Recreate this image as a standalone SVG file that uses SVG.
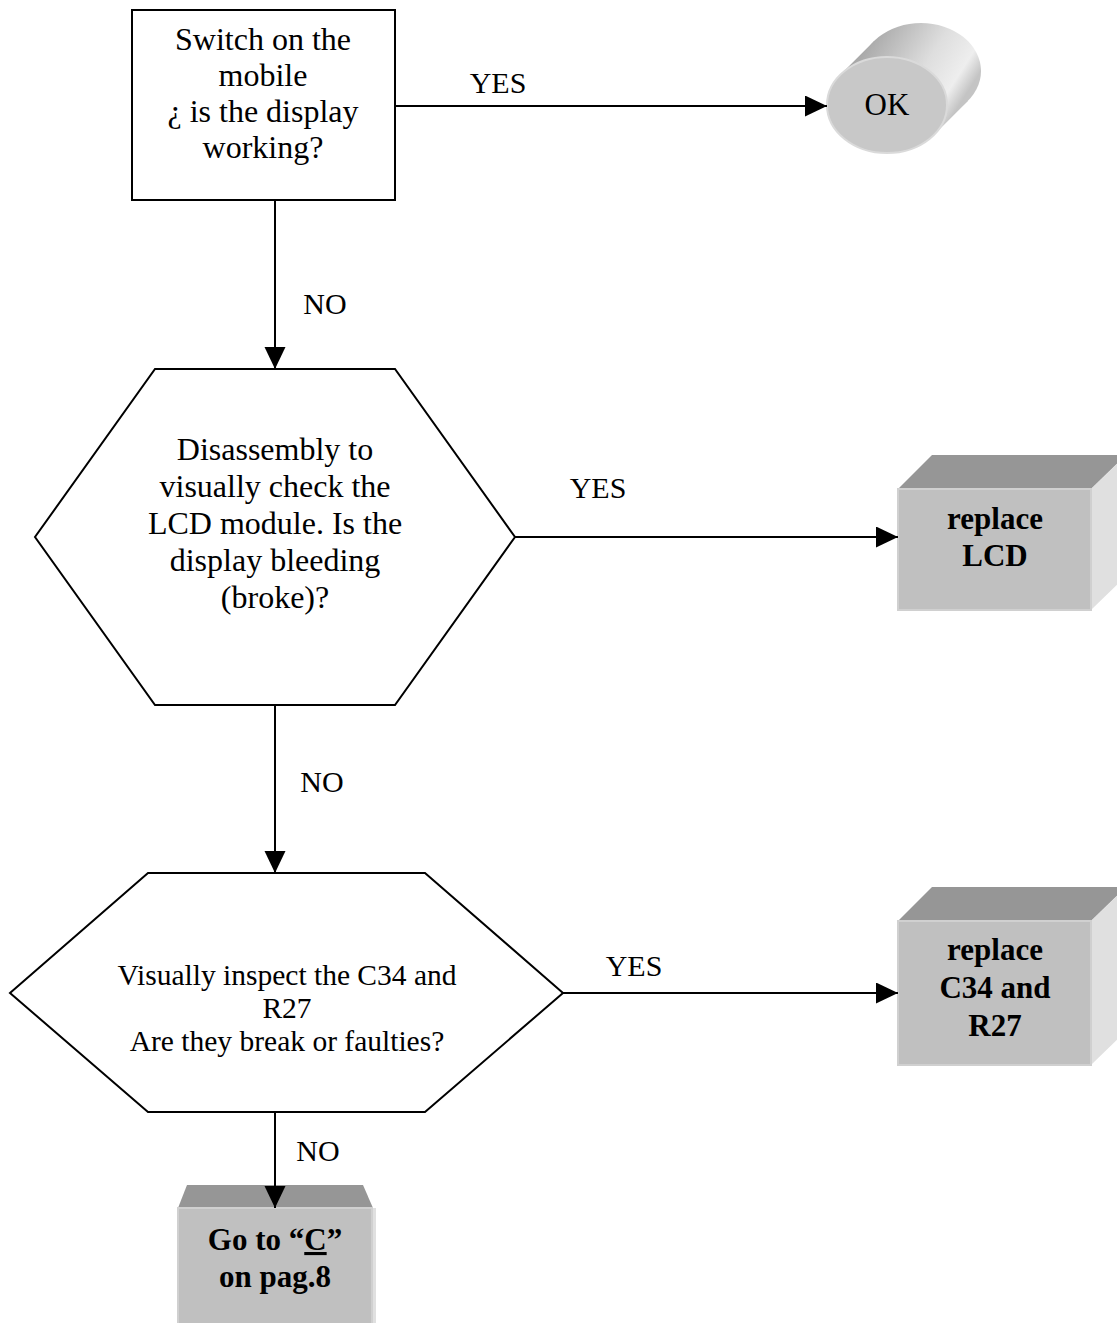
<svg xmlns="http://www.w3.org/2000/svg" width="1117" height="1323" viewBox="0 0 1117 1323">
<style>
  .t { font-family: "Liberation Serif", "Times New Roman", serif; fill: #000; text-anchor: middle; }
  .n32 { font-size: 32px; }
  .n29 { font-size: 29.5px; }
  .lbl { font-size: 30px; }
  .b { font-size: 31px; font-weight: bold; }
  .shape { fill: #fff; stroke: #000; stroke-width: 2; }
  .conn { fill: none; stroke: #000; stroke-width: 2; }
  .front { fill: #c0c0c0; stroke: #d0d0d0; stroke-width: 2; }
  .top { fill: #969696; }
  .side { fill: #e0e0e0; }
</style>
<defs>
  <marker id="arr" markerUnits="userSpaceOnUse" markerWidth="22" markerHeight="22" refX="22" refY="10.5" orient="auto">
    <path d="M0,0 L22,10.5 L0,21 Z" fill="#000"/>
  </marker>
  <linearGradient id="cyl" gradientUnits="userSpaceOnUse" x1="857" y1="58" x2="951" y2="118">
    <stop offset="0" stop-color="#a8a8a8"/>
    <stop offset="0.55" stop-color="#dedede"/>
    <stop offset="0.85" stop-color="#eeeeee"/>
    <stop offset="1" stop-color="#c4c4c4"/>
  </linearGradient>
</defs>
<rect width="1117" height="1323" fill="#fff"/>

<g id="start">
  <rect class="shape" x="132" y="10" width="263" height="190"/>
  <text class="t n32" x="263" y="50">Switch on the</text>
  <text class="t n32" x="263" y="86">mobile</text>
  <text class="t n32" x="263" y="122">¿ is the display</text>
  <text class="t n32" x="263" y="158">working?</text>
</g>

<g id="ok">
  <ellipse cx="921" cy="71" rx="60" ry="48" fill="url(#cyl)"/>
  <polygon points="840.15,75 874.15,41 967.85,101 933.85,135" fill="url(#cyl)"/>
  <ellipse cx="887" cy="105" rx="60" ry="48" fill="#c8c8c8" stroke="#dadada" stroke-width="2"/>
  <text class="t" style="font-size:31px" x="887" y="115">OK</text>
</g>

<g id="check-lcd">
  <polygon class="shape" points="155,369 395,369 515,537 395,705 155,705 35,537"/>
  <text class="t n32" x="275" y="460">Disassembly to</text>
  <text class="t n32" x="275" y="497">visually check the</text>
  <text class="t n32" x="275" y="534">LCD module. Is the</text>
  <text class="t n32" x="275" y="571">display bleeding</text>
  <text class="t n32" x="275" y="608">(broke)?</text>
</g>

<g id="replace-lcd">
  <polygon class="top" points="898,489 932,455 1126,455 1091,489"/>
  <polygon class="side" points="1091,489 1126,455 1126,576 1091,610"/>
  <rect class="front" x="898" y="489" width="193" height="121"/>
  <text class="t b" x="995" y="529">replace</text>
  <text class="t b" x="995" y="566">LCD</text>
</g>

<g id="inspect">
  <polygon class="shape" points="148,873 425,873 563,993 425,1112 148,1112 10,993"/>
  <text class="t n29" x="287" y="985">Visually inspect the C34 and</text>
  <text class="t n29" x="287" y="1018">R27</text>
  <text class="t n29" x="287" y="1051">Are they break or faulties?</text>
</g>

<g id="replace-c34">
  <polygon class="top" points="898,921 932,887 1126,887 1091,921"/>
  <polygon class="side" points="1091,921 1126,887 1126,1031 1091,1065"/>
  <rect class="front" x="898" y="921" width="193" height="144"/>
  <text class="t b" x="995" y="960">replace</text>
  <text class="t b" x="995" y="998">C34 and</text>
  <text class="t b" x="995" y="1036">R27</text>
</g>

<g id="goto-c">
  <polygon class="top" points="178,1208 187,1185 363,1185 373,1208"/>
  <rect class="side" x="372" y="1208" width="4" height="120"/>
  <rect class="front" x="178" y="1208" width="194" height="120"/>
  <text class="t b" x="275" y="1250">Go to “<tspan text-decoration="underline">C</tspan>”</text>
  <text class="t b" x="275" y="1287">on pag.8</text>
</g>

<g id="connectors">
  <path class="conn" d="M395,106 L827,106" marker-end="url(#arr)"/>
  <path class="conn" d="M275,200 L275,369" marker-end="url(#arr)"/>
  <path class="conn" d="M515,537 L898,537" marker-end="url(#arr)"/>
  <path class="conn" d="M275,705 L275,873" marker-end="url(#arr)"/>
  <path class="conn" d="M563,993 L898,993" marker-end="url(#arr)"/>
  <path class="conn" d="M275,1112 L275,1208" marker-end="url(#arr)"/>
  <text class="t lbl" x="498" y="93">YES</text>
  <text class="t lbl" x="325" y="314">NO</text>
  <text class="t lbl" x="598" y="498">YES</text>
  <text class="t lbl" x="322" y="792">NO</text>
  <text class="t lbl" x="634" y="976">YES</text>
  <text class="t lbl" x="318" y="1161">NO</text>
</g>
</svg>
